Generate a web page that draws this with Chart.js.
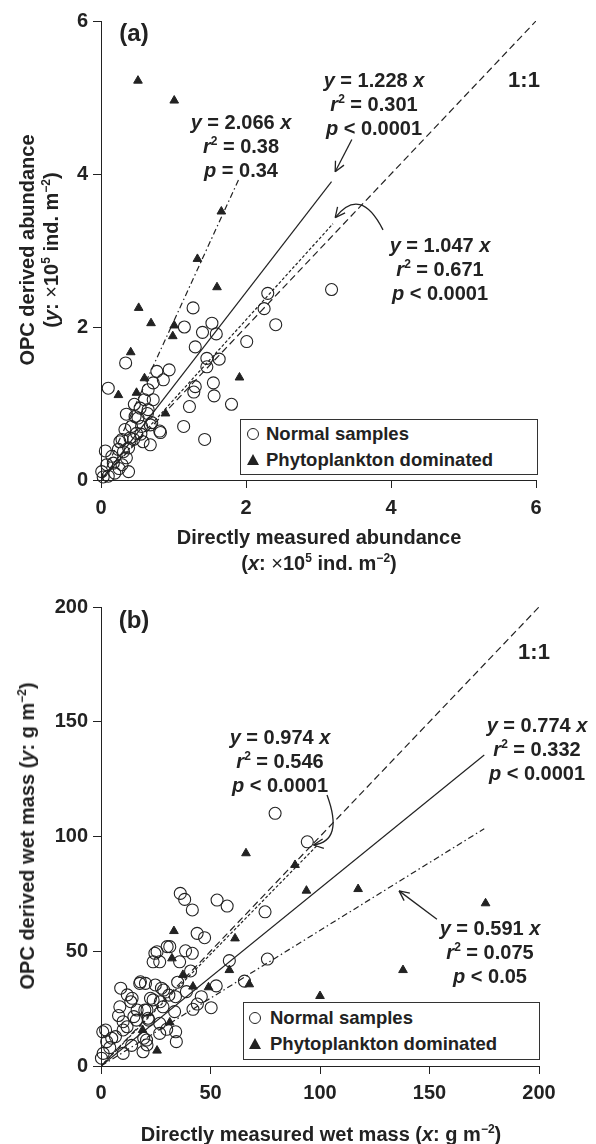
<!DOCTYPE html>
<html>
<head>
<meta charset="utf-8">
<script src="https://cdn.jsdelivr.net/npm/chart.js@4.4.0/dist/chart.umd.min.js"></script>
<style>
  body { margin: 0; background: #fff; }
  #wrap { position: relative; width: 596px; height: 1144px; overflow: hidden;
          font-family: "Liberation Sans", Arial, sans-serif; font-weight: bold; color: #222; }
  canvas { position: absolute; left: 0; }
  .t { position: absolute; white-space: nowrap; font-size: 20px; line-height: 24px; text-align: center;
       transform: translateX(-50%); }
  .rot { position: absolute; white-space: nowrap; font-size: 20px; line-height: 24px;
         transform: translate(-50%, -50%) rotate(-90deg); }
  .ctr { position: absolute; white-space: nowrap; font-size: 20px; line-height: 24px;
         transform: translate(-50%, -50%); }
  sup { font-size: 12px; line-height: 0; vertical-align: 0; position: relative; top: -8px; }
  .thin { font-weight: normal; }
  .legend { position: absolute; border: 1px solid #333; background: #fff; font-size: 18.5px; }
  .legend div { position: absolute; white-space: nowrap; transform: translateY(-50%); line-height: 22px; }
  .circ { position: absolute; width: 10px; height: 10px; border: 1.2px solid #222; border-radius: 50%;
          transform: translate(-50%, -50%); }
  .tri { position: absolute; width: 0; height: 0; border-left: 6px solid transparent; border-right: 6px solid transparent;
         border-bottom: 11px solid #222; transform: translate(-50%, -55%); }
</style>
</head>
<body>
<div id="wrap">
  <canvas id="chartA" width="596" height="590" style="top:0"></canvas>
  <canvas id="chartB" width="596" height="554" style="top:590px"></canvas>

  <!-- panel (a) text -->
  <div class="ctr" style="left:134px;top:33px;font-size:24px">(a)</div>
  <div class="ctr" style="left:524px;top:80px;font-size:22px">1:1</div>
  <div class="t" style="left:241px;top:110px"><i>y</i> = 2.066 <i>x</i><br><i>r</i><sup>2</sup> = 0.38<br><i>p</i> = 0.34</div>
  <div class="t" style="left:374px;top:68px"><i>y</i> = 1.228 <i>x</i><br><i>r</i><sup>2</sup> = 0.301<br><i>p</i> &lt; 0.0001</div>
  <div class="t" style="left:440px;top:233px"><i>y</i> = 1.047 <i>x</i><br><i>r</i><sup>2</sup> = 0.671<br><i>p</i> &lt; 0.0001</div>
  <div class="rot" style="left:27px;top:250px">OPC derived abundance</div>
  <div class="rot" style="left:51px;top:250px">(<i>y</i>: <span class="thin">×</span>10<sup>5</sup> ind. m<sup>−2</sup>)</div>
  <div class="ctr" style="left:319px;top:537px">Directly measured abundance</div>
  <div class="ctr" style="left:319px;top:563px">(<i>x</i>: <span class="thin">×</span>10<sup>5</sup> ind. m<sup>−2</sup>)</div>
  <div class="legend" style="left:240px;top:419px;width:296px;height:54px">
    <span class="circ" style="left:12px;top:14px"></span><div style="left:25px;top:14px">Normal samples</div>
    <span class="tri" style="left:12px;top:40px"></span><div style="left:25px;top:40px">Phytoplankton dominated</div>
  </div>

  <!-- panel (b) text -->
  <div class="ctr" style="left:134px;top:620px;font-size:24px">(b)</div>
  <div class="ctr" style="left:534px;top:652px;font-size:22px">1:1</div>
  <div class="t" style="left:280px;top:725px"><i>y</i> = 0.974 <i>x</i><br><i>r</i><sup>2</sup> = 0.546<br><i>p</i> &lt; 0.0001</div>
  <div class="t" style="left:537px;top:713px"><i>y</i> = 0.774 <i>x</i><br><i>r</i><sup>2</sup> = 0.332<br><i>p</i> &lt; 0.0001</div>
  <div class="t" style="left:490px;top:916px"><i>y</i> = 0.591 <i>x</i><br><i>r</i><sup>2</sup> = 0.075<br><i>p</i> &lt; 0.05</div>
  <div class="rot" style="left:27px;top:836px">OPC derived wet mass (<i>y</i>: g m<sup>−2</sup>)</div>
  <div class="ctr" style="left:321px;top:1134px">Directly measured wet mass (<i>x</i>: g m<sup>−2</sup>)</div>
  <div class="legend" style="left:243px;top:1002px;width:295px;height:56px">
    <span class="circ" style="left:11px;top:15px"></span><div style="left:26px;top:15px">Normal samples</div>
    <span class="tri" style="left:11px;top:41px"></span><div style="left:26px;top:41px">Phytoplankton dominated</div>
  </div>
</div>

<script>
const INK = '#222';
const FONT = '"Liberation Sans", Arial, sans-serif';

// (a) abundance, both axes in x10^5 ind. m^-2
const aTicksX = [0, 2, 4, 6];
const aTicksY = [0, 2, 4, 6];
const aNormal = [
  [3.18,2.49],[2.30,2.44],[2.25,2.24],[2.41,2.03],[2.01,1.81],
  [1.27,2.25],[1.15,2.00],[1.53,2.05],[1.40,1.93],[1.59,1.91],[1.30,1.74],[1.46,1.59],[1.63,1.58],
  [1.46,1.48],[1.55,1.27],[1.30,1.22],[1.28,1.15],[1.56,1.10],[1.80,0.99],[1.22,0.96],[1.14,0.70],
  [1.43,0.53],[0.82,0.62],[0.34,1.53],[0.10,1.20],[0.77,1.42],[0.94,1.44],[0.86,1.31],[0.72,1.27],
  [0.65,1.18],[0.60,1.05],[0.72,1.05],[0.54,0.94],[0.65,0.92],[0.46,0.99],[0.35,0.86],[0.51,0.81],
  [0.42,0.70],[0.56,0.70],[0.33,0.66],[0.68,0.72],[0.81,0.64],[0.29,0.53],[0.45,0.53],[0.68,0.46],
  [0.58,0.50],[0.38,0.42],[0.24,0.40],[0.06,0.38],[0.15,0.31],[0.35,0.29],[0.29,0.20],[0.08,0.20],
  [0.19,0.09],[0.01,0.11],[0.10,0.05],[0.38,0.11],[0.25,0.15],[0.47,0.83],[0.64,0.87],[0.70,0.75],
  [0.49,0.61],[0.26,0.50],[0.17,0.22],[0.03,0.04],[0.55,0.60],[0.31,0.37],[0.40,0.55]
];
const aPhyto = [
  [0.51,5.22],[1.01,4.96],[1.66,3.51],[1.33,2.89],[1.60,2.52],[0.52,2.25],[0.69,2.05],[0.99,1.88],
  [1.01,2.02],[0.41,1.67],[0.24,1.11],[0.49,1.14],[0.60,1.33],[0.89,0.87],[1.91,1.34]
];
const aOneToOne = [[0,0],[6,6]];
const aFitPhyto = [[0,0],[1.9,3.93]];   // y = 2.066 x
const aFitAll = [[0,0],[3.18,3.9]];     // y = 1.228 x
const aFitNormal = [[0,0],[3.2,3.35]];  // y = 1.047 x

// (b) wet mass, g m^-2
const bTicksX = [0, 50, 100, 150, 200];
const bTicksY = [0, 50, 100, 150, 200];
const bNormal = [
  [94.2,97.7],[79.5,110.1],[36.2,75.2],[38.2,72.6],[41.7,68.0],[53.0,72.3],[57.6,69.7],[74.9,67.2],
  [43.9,57.8],[47.3,55.9],[25.6,49.8],[31.4,52.0],[23.8,45.4],[26.8,45.4],[35.9,45.4],[38.6,50.2],
  [41.7,49.1],[58.6,45.9],[76.0,46.6],[40.9,41.4],[65.5,37.0],[52.6,34.9],[9.0,33.9],[17.7,36.0],
  [20.3,36.0],[24.8,35.3],[27.6,33.9],[39.0,32.4],[31.0,30.9],[45.8,30.2],[13.6,28.0],[8.6,25.8],
  [23.8,28.8],[20.0,24.4],[28.3,25.8],[33.6,23.7],[42.0,24.7],[50.3,25.4],[10.1,19.3],[16.2,20.0],
  [21.5,20.8],[26.8,18.6],[10.1,15.7],[0.8,14.9],[4.9,12.1],[20.8,11.3],[26.8,14.2],[34.1,14.9],
  [34.4,10.6],[19.2,6.2],[10.1,5.5],[1.0,5.5],[0.2,3.4],[2.6,10.6],[18.0,36.7],[14.2,29.5],
  [22.6,29.5],[27.1,28.0],[16.5,24.4],[21.0,24.4],[15.0,21.5],[21.8,20.0],[11.9,17.1],[2.1,15.7],
  [6.6,12.8],[19.5,12.1],[21.0,9.2],[28.6,33.1],[34.0,30.2],[24.6,49.1],[30.2,52.0],[12.0,31.0],
  [35.0,36.5],[44.0,27.0],[8.0,22.0],[14.0,9.0],[30.0,16.0],[4.0,8.0]
];
const bPhyto = [
  [66.2,92.7],[88.6,87.6],[93.8,76.4],[117.4,77.1],[175.6,70.9],[137.9,41.8],[100.0,30.5],[33.3,58.8],
  [61.2,55.6],[32.4,46.9],[58.6,41.8],[37.4,39.7],[42.0,34.6],[49.1,34.3],[67.7,35.6],[31.4,19.0],
  [19.0,15.7],[25.6,6.7]
];
const bOneToOne = [[0,0],[200,200]];
const bFitNormal = [[0,0],[99,96.4]];    // y = 0.974 x
const bFitAll = [[0,0],[175,135.5]];     // y = 0.774 x
const bFitPhyto = [[0,0],[175,103.4]];   // y = 0.591 x

function toPts(arr) { return arr.map(p => ({ x: p[0], y: p[1] })); }

// arrows pointing from the equations to their lines, given in data units
function arrowPlugin(arrows) {
  return {
    id: 'arrows',
    afterDatasetsDraw(chart) {
      const { ctx, scales: { x, y } } = chart;
      const px = q => [x.getPixelForValue(q[0]), y.getPixelForValue(q[1])];
      ctx.save();
      ctx.strokeStyle = INK;
      ctx.lineWidth = 1.3;
      arrows.forEach(a => {
        const s = px(a.from), e = px(a.to), c = a.via ? px(a.via) : null;
        ctx.beginPath();
        ctx.moveTo(s[0], s[1]);
        if (c) ctx.quadraticCurveTo(c[0], c[1], e[0], e[1]);
        else ctx.lineTo(e[0], e[1]);
        ctx.stroke();
        const ref = c || s;
        const ang = Math.atan2(e[1] - ref[1], e[0] - ref[0]);
        ctx.beginPath();
        [-0.45, 0.45].forEach(d => {
          ctx.moveTo(e[0], e[1]);
          ctx.lineTo(e[0] - 11 * Math.cos(ang + d), e[1] - 11 * Math.sin(ang + d));
        });
        ctx.stroke();
      });
      ctx.restore();
    }
  };
}

function axis(ticks, isX, size, pad) {
  return {
    type: 'linear',
    min: ticks[0],
    max: ticks[ticks.length - 1],
    afterBuildTicks: s => { s.ticks = ticks.map(v => ({ value: v })); },
    afterFit: s => { if (isX) s.height = size; else s.width = size; },
    ticks: { color: INK, font: { family: FONT, size: 20, weight: 'bold' }, padding: pad },
    grid: { drawOnChartArea: false, drawTicks: true, tickLength: 8, color: INK, lineWidth: 1 },
    border: { display: true, color: INK, width: 1 }
  };
}

function lineSet(label, pts, dash) {
  return { label, data: toPts(pts), showLine: true, pointRadius: 0, borderColor: INK,
           borderWidth: 1.2, borderDash: dash, fill: false };
}

function makeChart(id, cfg) {
  return new Chart(document.getElementById(id), {
    type: 'scatter',
    data: {
      datasets: [
        ...cfg.lines,
        { label: 'Normal samples', data: toPts(cfg.normal), pointStyle: 'circle', pointRadius: 6,
          backgroundColor: 'rgba(255,255,255,0)', borderColor: INK, borderWidth: 1.1, clip: 10 },
        { label: 'Phytoplankton dominated', data: toPts(cfg.phyto), pointStyle: 'triangle', pointRadius: 5,
          backgroundColor: INK, borderColor: INK, borderWidth: 1, clip: 10 }
      ]
    },
    options: {
      responsive: false,
      animation: false,
      layout: { padding: cfg.pad },
      plugins: { legend: { display: false }, tooltip: { enabled: false } },
      scales: { x: axis(cfg.xTicks, true, cfg.xH, cfg.xPad), y: axis(cfg.yTicks, false, 101, 5) }
    },
    plugins: [arrowPlugin(cfg.arrows)]
  });
}

makeChart('chartA', {
  normal: aNormal, phyto: aPhyto, xTicks: aTicksX, yTicks: aTicksY,
  pad: { top: 21, right: 60, bottom: 0, left: 0 }, xH: 110, xPad: 8,
  lines: [
    lineSet('1:1', aOneToOne, [7, 4]),
    lineSet('y = 2.066 x', aFitPhyto, [6, 3, 1.5, 3]),
    lineSet('y = 1.228 x', aFitAll, []),
    lineSet('y = 1.047 x', aFitNormal, [3, 2])
  ],
  arrows: [
    { from: [3.46, 4.45], to: [3.23, 4.03] },
    { from: [3.89, 3.27], via: [3.58, 3.85], to: [3.23, 3.43] }
  ]
});

makeChart('chartB', {
  normal: bNormal, phyto: bPhyto, xTicks: bTicksX, yTicks: bTicksY,
  pad: { top: 17, right: 57, bottom: 0, left: 0 }, xH: 78, xPad: 7,
  lines: [
    lineSet('1:1', bOneToOne, [7, 4]),
    lineSet('y = 0.974 x', bFitNormal, [3, 2]),
    lineSet('y = 0.774 x', bFitAll, []),
    lineSet('y = 0.591 x', bFitPhyto, [6, 3, 1.5, 3])
  ],
  arrows: [
    { from: [103.2, 118.1], via: [111, 98], to: [97, 96.3] },
    { from: [153.4, 63.9], to: [136.1, 76.3] }
  ]
});
</script>
</body>
</html>
